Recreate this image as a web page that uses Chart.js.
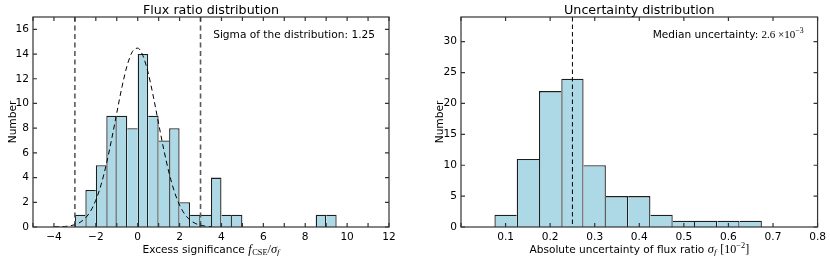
<!DOCTYPE html>
<html><head><meta charset="utf-8">
<script src="https://cdn.jsdelivr.net/npm/chart.js@4.4.0/dist/chart.umd.min.js"></script>
<style>
html,body{margin:0;padding:0;background:#fff;}
#wrap{position:relative;width:830px;height:256px;overflow:hidden;background:#fff;}
.pane{position:absolute;top:0;width:415px;height:256px;}
canvas{display:block;}
</style></head><body>
<div id="wrap">
<div class="pane" style="left:0"><canvas id="c1" width="415" height="256"></canvas></div>
<div class="pane" style="left:415px"><canvas id="c2" width="415" height="256"></canvas></div>
</div>
<script>
// ---------------- data: left panel (flux ratio / excess significance) ----------------
const sigBinLow = [-3, -2.5, -2, -1.5, -1, -0.5, 0, 0.5, 1, 1.5, 2, 2.5, 3, 3.5, 4, 4.5, 8.5, 9];
const sigCounts = [1, 3, 5, 9, 9, 8, 14, 9, 7, 8, 2, 1, 1, 4, 1, 1, 1, 1];
const sigBinWidth = 0.5;
const gaussX = [-4, -3.75, -3.5, -3.25, -3, -2.75, -2.5, -2.25, -2, -1.75, -1.5, -1.25, -1, -0.75, -0.5, -0.25,
                0, 0.25, 0.5, 0.75, 1, 1.25, 1.5, 1.75, 2, 2.25, 2.5, 2.75, 3, 3.25, 3.5];
const gaussY = [0.01, 0.02, 0.04, 0.09, 0.19, 0.38, 0.72, 1.29, 2.17, 3.42, 5.07, 7.06, 9.23, 11.35, 13.1, 14.21,
                14.48, 13.86, 12.47, 10.53, 8.36, 6.23, 4.36, 2.87, 1.77, 1.03, 0.56, 0.29, 0.14, 0.06, 0.03];
const sigCutLines = [-3, 3];
const sigXRange = [-5, 12];
const sigYRange = [0, 17];
const sigTitle = 'Flux ratio distribution';
const sigNote = 'Sigma of the distribution: 1.25';

// ---------------- data: right panel (uncertainty) ----------------
const uncBinLow = [0.075, 0.125, 0.175, 0.225, 0.275, 0.325, 0.375, 0.425, 0.475, 0.525, 0.575, 0.625];
const uncCounts = [2, 11, 22, 24, 10, 5, 5, 2, 1, 1, 1, 1];
const uncBinWidth = 0.05;
const uncMedianLine = [0.25];
const uncXRange = [0, 0.8];
const uncYRange = [0, 34];
const uncTitle = 'Uncertainty distribution';

// ---------------- styling ----------------
const SANS = '"DejaVu Sans", sans-serif';
const SERIF = '"Liberation Serif", "DejaVu Serif", serif';
const BASE = 10.6;
const FRAME = '#333333';
const BAR_FILL = '#ADD8E6';
const BAR_EDGE = '#1e1e1e';
const EDGE_W = 1.3;

function fmtNum(v, dec) {
  const s = (Math.abs(v) < 1e-9 ? 0 : v).toFixed(dec);
  return s.replace('-', '\u2212');
}

// one shared edge between neighbouring bars, drawn by the taller one
function barBorder(low, counts, w) {
  return (c) => {
    const i = c.dataIndex;
    if (i === undefined) return EDGE_W;
    const prevAdj = i > 0 && Math.abs(low[i] - low[i - 1] - w) < 1e-9;
    const nextAdj = i + 1 < low.length && Math.abs(low[i + 1] - low[i] - w) < 1e-9;
    const left = (prevAdj && counts[i - 1] >= counts[i]) ? 0 : EDGE_W;
    const right = (nextAdj && counts[i + 1] > counts[i]) ? 0 : EDGE_W;
    return {left: left, top: EDGE_W, right: right, bottom: 0};
  };
}

function drawRuns(ctx, runs, x, y, align) {
  let total = 0;
  runs.forEach(r => { ctx.font = r.font; r.w = ctx.measureText(r.t).width + (r.gap || 0); total += r.w; });
  let cx = align === 'center' ? x - total / 2 : (align === 'right' ? x - total : x);
  ctx.textAlign = 'left';
  ctx.textBaseline = 'alphabetic';
  runs.forEach(r => { ctx.font = r.font; ctx.fillText(r.t, cx, y + (r.dy || 0)); cx += r.w; });
}

function decor(opts) {
  return {
    id: 'decor',
    afterDatasetsDraw(chart) {
      const ctx = chart.ctx, a = chart.chartArea, xs = chart.scales.x;
      ctx.save();
      ctx.strokeStyle = opts.vColor;
      ctx.lineWidth = opts.vWidth;
      ctx.setLineDash(opts.vDash);
      opts.vLines.forEach(v => {
        const px = xs.getPixelForValue(v);
        ctx.beginPath(); ctx.moveTo(px, a.top); ctx.lineTo(px, a.bottom); ctx.stroke();
      });
      ctx.restore();
    },
    afterDraw(chart) {
      const ctx = chart.ctx, a = chart.chartArea, xs = chart.scales.x, ys = chart.scales.y;
      ctx.save();
      ctx.strokeStyle = FRAME;
      ctx.lineWidth = 1.2;
      ctx.setLineDash([]);
      ctx.strokeRect(a.left, a.top, a.right - a.left, a.bottom - a.top);
      const L = 4;
      ctx.beginPath();
      xs.ticks.forEach(t => {
        const px = xs.getPixelForValue(t.value);
        ctx.moveTo(px, a.bottom); ctx.lineTo(px, a.bottom - L);
        ctx.moveTo(px, a.top); ctx.lineTo(px, a.top + L);
      });
      ys.ticks.forEach(t => {
        const py = ys.getPixelForValue(t.value);
        ctx.moveTo(a.left, py); ctx.lineTo(a.left + L, py);
        ctx.moveTo(a.right, py); ctx.lineTo(a.right - L, py);
      });
      ctx.stroke();
      ctx.fillStyle = '#000';
      // title
      ctx.font = '12.7px ' + SANS;
      ctx.textAlign = 'center';
      ctx.textBaseline = 'alphabetic';
      ctx.fillText(opts.title, (a.left + a.right) / 2, 13.5);
      // y label
      ctx.save();
      ctx.translate(opts.yLabelX, (a.top + a.bottom) / 2);
      ctx.rotate(-Math.PI / 2);
      ctx.font = BASE + 'px ' + SANS;
      ctx.textAlign = 'center';
      ctx.fillText('Number', 0, 0);
      ctx.restore();
      // x label
      drawRuns(ctx, opts.xLabel, (a.left + a.right) / 2, 252.5, 'center');
      // note
      drawRuns(ctx, opts.note, a.right - 14, 37.5, 'right');
      ctx.restore();
    }
  };
}

function commonScales(xr, yr, xStep, yStep, yWidth, xCb) {
  const tickFont = {family: SANS, size: BASE};
  return {
    x: {
      type: 'linear', min: xr[0], max: xr[1], offset: false,
      grid: {display: false, drawTicks: false}, border: {display: false},
      ticks: {stepSize: xStep, autoSkip: false, maxRotation: 0, minRotation: 0, padding: 4, color: '#000', font: tickFont, callback: xCb},
      afterFit: s => { s.height = 29; }
    },
    y: {
      type: 'linear', min: yr[0], max: yr[1],
      grid: {display: false, drawTicks: false}, border: {display: false},
      ticks: {stepSize: yStep, padding: 4, color: '#000', font: tickFont, callback: v => fmtNum(v, 0)},
      afterBuildTicks: s => { s.ticks = s.ticks.filter(t => Math.abs(t.value / yStep - Math.round(t.value / yStep)) < 1e-9); },
      afterFit: s => { s.width = yWidth; }
    }
  };
}

// ---------------- left chart ----------------
new Chart(document.getElementById('c1'), {
  type: 'bar',
  data: {
    datasets: [
      {
        type: 'line', order: 1,
        data: gaussX.map((x, i) => ({x: x, y: gaussY[i]})),
        borderColor: '#000', borderWidth: 1, borderDash: [5, 3.5],
        pointRadius: 0, fill: false, cubicInterpolationMode: 'monotone'
      },
      {
        type: 'bar', order: 2,
        data: sigBinLow.map((lo, i) => ({x: lo + sigBinWidth / 2, y: sigCounts[i]})),
        backgroundColor: BAR_FILL, borderColor: BAR_EDGE,
        borderWidth: barBorder(sigBinLow, sigCounts, sigBinWidth),
        barPercentage: 1, categoryPercentage: 1, inflateAmount: 0
      }
    ]
  },
  options: {
    responsive: false, animation: false, events: [],
    layout: {padding: {left: 0, right: 26, top: 17, bottom: 0}},
    plugins: {legend: {display: false}, tooltip: {enabled: false}},
    scales: commonScales(sigXRange, sigYRange, 1, 2, 33,
      v => (Math.abs(v % 2) < 1e-9 ? fmtNum(v, 0) : ''))
  },
  plugins: [decor({
    title: sigTitle,
    vLines: sigCutLines, vColor: '#5a5a5a', vWidth: 1.6, vDash: [5, 3.5],
    yLabelX: 15.5,
    xLabel: [
      {t: 'Excess significance ', font: BASE + 'px ' + SANS},
      {t: 'f', font: 'italic 12.5px ' + SERIF, gap: 0.5},
      {t: 'CSE', font: '8.3px ' + SERIF, dy: 2.5},
      {t: '/', font: '12.5px ' + SERIF},
      {t: '\u03C3', font: 'italic 12.5px ' + SERIF},
      {t: 'f', font: 'italic 8.8px ' + SERIF, dy: 2.5}
    ],
    note: [{t: sigNote, font: BASE + 'px ' + SANS}]
  })]
});

// ---------------- right chart ----------------
new Chart(document.getElementById('c2'), {
  type: 'bar',
  data: {
    datasets: [
      {
        type: 'bar', order: 2,
        data: uncBinLow.map((lo, i) => ({x: lo + uncBinWidth / 2, y: uncCounts[i]})),
        backgroundColor: BAR_FILL, borderColor: BAR_EDGE,
        borderWidth: barBorder(uncBinLow, uncCounts, uncBinWidth),
        barPercentage: 1, categoryPercentage: 1, inflateAmount: 0
      }
    ]
  },
  options: {
    responsive: false, animation: false, events: [],
    layout: {padding: {left: 0, right: 12, top: 17, bottom: 0}},
    plugins: {legend: {display: false}, tooltip: {enabled: false}},
    scales: commonScales(uncXRange, uncYRange, 0.1, 5, 46,
      v => (Math.abs(v) < 1e-9 ? '' : fmtNum(v, 1)))
  },
  plugins: [decor({
    title: uncTitle,
    vLines: uncMedianLine, vColor: '#000', vWidth: 1, vDash: [4.5, 3],
    yLabelX: 28,
    xLabel: [
      {t: 'Absolute uncertainty of flux ratio ', font: BASE + 'px ' + SANS},
      {t: '\u03C3', font: 'italic 12.5px ' + SERIF},
      {t: 'f', font: 'italic 8.8px ' + SERIF, dy: 2.5, gap: 4},
      {t: '[10', font: '12px ' + SERIF},
      {t: '\u22122', font: '8.3px ' + SERIF, dy: -4.5},
      {t: ']', font: '12px ' + SERIF}
    ],
    note: [
      {t: 'Median uncertainty: ', font: BASE + 'px ' + SANS},
      {t: '2.6 \u00D710', font: '11px ' + SERIF},
      {t: '\u22123', font: '7.8px ' + SERIF, dy: -4.5}
    ]
  })]
});
</script>
</body></html>
